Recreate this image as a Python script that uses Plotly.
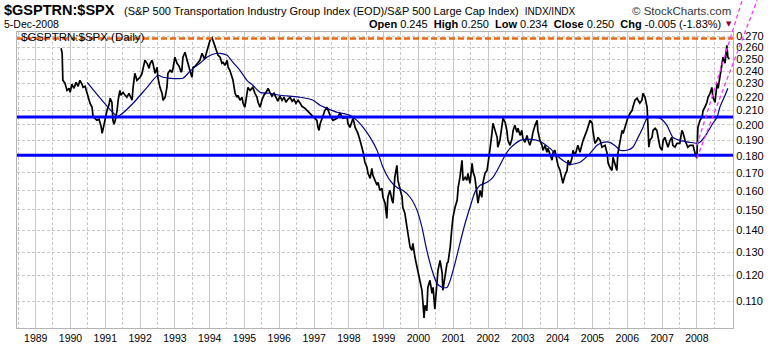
import math
from datetime import datetime
import plotly.graph_objects as go

# ---------------- data ----------------
ratio_t = [1989.73,1989.76,1989.78,1989.84,1989.90,1989.96,1989.99,1990.04,1990.10,1990.16,1990.22,1990.27,1990.33,1990.36,1990.42,1990.47,1990.50,1990.56,1990.62,1990.65,1990.70,1990.76,1990.82,1990.85,1990.88,1990.91,1990.96,1990.99,
1991.05,1991.11,1991.14,1991.19,1991.22,1991.25,1991.28,1991.34,1991.37,1991.42,1991.45,1991.51,1991.57,1991.62,1991.68,1991.74,1991.77,1991.80,1991.85,1991.91,
1992.00,1992.05,1992.08,1992.14,1992.20,1992.26,1992.28,1992.34,1992.37,1992.43,1992.49,1992.51,1992.57,1992.63,1992.66,1992.72,1992.77,1992.80,1992.86,1992.92,1992.95,
1993.00,1993.06,1993.12,1993.18,1993.20,1993.23,1993.29,1993.35,1993.38,1993.43,1993.49,1993.52,1993.58,1993.64,1993.72,1993.78,1993.84,1993.87,1993.92,1993.95,
1994.01,1994.07,1994.09,1994.15,1994.21,1994.24,1994.30,1994.35,1994.38,1994.44,1994.50,1994.53,1994.58,1994.64,1994.67,1994.73,1994.78,1994.81,1994.87,1994.93,1994.96,
1995.01,1995.07,1995.10,1995.16,1995.24,1995.30,1995.36,1995.39,1995.45,1995.50,1995.56,1995.62,1995.68,1995.73,1995.79,1995.85,1995.91,1995.96,
1996.02,1996.08,1996.14,1996.19,1996.25,1996.31,1996.37,1996.42,1996.48,1996.54,1996.60,1996.65,1996.74,1996.80,1996.88,1996.97,
1997.08,1997.11,1997.14,1997.17,1997.23,1997.31,1997.37,1997.46,1997.54,1997.66,1997.74,1997.83,1997.95,1997.97,
1998.03,1998.09,1998.12,1998.18,1998.23,1998.26,1998.32,1998.38,1998.41,1998.46,1998.52,1998.55,1998.61,1998.66,1998.69,1998.75,1998.81,1998.84,1998.89,1998.95,1998.98,
1999.04,1999.07,1999.09,1999.12,1999.18,1999.24,1999.27,1999.32,1999.38,1999.41,1999.47,1999.53,1999.55,1999.61,1999.67,1999.70,1999.76,1999.81,1999.84,1999.90,1999.96,1999.99,
2000.04,2000.10,2000.13,2000.16,2000.19,2000.24,2000.27,2000.33,2000.39,2000.42,2000.47,2000.50,2000.53,2000.56,2000.62,2000.68,2000.70,2000.76,2000.82,2000.85,2000.91,2000.96,2000.99,
2001.05,2001.11,2001.14,2001.19,2001.25,2001.28,2001.34,2001.39,2001.42,2001.48,2001.54,2001.57,2001.62,2001.68,2001.71,2001.77,2001.82,2001.85,2001.91,2001.97,
2002.00,2002.05,2002.11,2002.14,2002.20,2002.26,2002.28,2002.34,2002.40,2002.43,2002.49,2002.54,2002.57,2002.63,2002.69,2002.72,2002.77,2002.83,2002.86,2002.92,2002.97,
2003.00,2003.06,2003.12,2003.15,2003.20,2003.26,2003.29,2003.35,2003.41,2003.43,2003.49,2003.55,2003.58,2003.64,2003.69,2003.72,2003.78,2003.84,2003.87,2003.92,2003.98,
2004.01,2004.07,2004.12,2004.15,2004.21,2004.27,2004.30,2004.35,2004.41,2004.44,2004.50,2004.55,2004.58,2004.64,2004.73,2004.84,2004.93,2004.99,
2005.01,2005.07,2005.13,2005.16,2005.22,2005.27,2005.36,2005.42,2005.45,2005.50,2005.56,2005.59,2005.65,2005.70,2005.73,2005.79,2005.85,2005.88,2005.93,2005.99,
2006.02,2006.08,2006.14,2006.16,2006.22,2006.28,2006.31,2006.36,2006.42,2006.45,2006.51,2006.57,2006.60,2006.62,2006.65,2006.71,2006.74,2006.80,2006.85,2006.88,2006.94,2007.00,
2007.03,2007.08,2007.14,2007.17,2007.23,2007.28,2007.31,2007.37,2007.43,2007.51,2007.57,2007.60,2007.66,2007.72,2007.74,2007.80,2007.89,2007.95,
2008.00,2008.03,2008.09,2008.15,2008.18,2008.23,2008.29,2008.32,2008.38,2008.43,2008.46,2008.52,2008.55,2008.58,2008.61,2008.66,2008.72,2008.75,2008.81,2008.86,2008.89,2008.93]

ratio_v = [.2593,.2549,.2326,.2303,.2248,.2264,.2233,.2295,.2264,.2310,.2279,.2326,.2295,.2271,.2279,.2226,.2196,.2152,.2123,.2052,.2045,.2031,.2038,.2011,.1990,.1943,.1990,.2031,
.2101,.2144,.2189,.2159,.2031,.2004,.2024,.2101,.2174,.2248,.2211,.2233,.2211,.2196,.2226,.2181,.2174,.2271,.2382,.2326,
.2350,.2374,.2406,.2489,.2464,.2422,.2455,.2489,.2464,.2382,.2431,.2350,.2271,.2226,.2174,.2196,.2271,.2382,.2406,.2390,.2431,
.2515,.2464,.2439,.2390,.2406,.2515,.2558,.2489,.2464,.2406,.2350,.2431,.2439,.2464,.2489,.2549,.2506,.2515,.2575,.2601,
.2664,.2685,.2664,.2601,.2549,.2532,.2515,.2464,.2472,.2447,.2489,.2431,.2406,.2350,.2326,.2226,.2196,.2211,.2174,.2196,.2152,
.2123,.2248,.2271,.2248,.2271,.2226,.2196,.2159,.2123,.2174,.2211,.2233,.2264,.2233,.2204,.2226,.2189,.2167,
.2204,.2174,.2196,.2159,.2181,.2196,.2167,.2181,.2152,.2174,.2152,.2130,.2115,.2101,.2080,.2059,
.2031,.1983,.1963,.2004,.2045,.2101,.2123,.2066,.2031,.2045,.2080,.2045,.2052,.2011,
.1983,.2031,.2045,.1983,.1963,.1943,.1898,.1854,.1823,.1762,.1732,.1697,.1668,.1726,.1686,.1657,.1630,.1646,.1602,.1613,.1565,
.1534,.1497,.1457,.1565,.1602,.1549,.1534,.1674,.1744,.1657,.1613,.1565,.1513,.1482,.1414,.1385,.1321,.1307,.1339,.1277,.1235,.1210,
.1181,.1142,.1093,.1040,.1085,.1065,.1153,.1181,.1130,.1153,.1072,.1123,.1153,.1222,.1264,.1210,.1142,.1193,.1252,.1256,.1321,.1414,.1462,
.1513,.1549,.1618,.1674,.1774,.1657,.1674,.1657,.1697,.1641,.1756,.1703,.1674,.1586,.1534,.1602,.1565,.1641,.1697,.1714,
.1774,.1835,.1943,.2011,.1963,.1917,.1854,.1898,.1997,.2045,.2018,.1963,.1898,.1866,.1911,.1963,.1997,.1950,.1977,.1930,.1963,
.1911,.1885,.1930,.1898,.1866,.1911,.1950,.1997,.2031,.1963,.1898,.1866,.1835,.1866,.1823,.1847,.1804,.1774,.1823,.1835,.1774,
.1744,.1714,.1668,.1641,.1686,.1714,.1774,.1744,.1786,.1835,.1804,.1835,.1866,.1823,.1898,.1963,.2031,.2011,
.1963,.1879,.1898,.1917,.1898,.1854,.1866,.1816,.1756,.1732,.1714,.1792,.1756,.1714,.1816,.1898,.1963,.1943,.1983,.2031,
.2052,.2080,.2101,.2123,.2174,.2189,.2174,.2152,.2174,.2226,.2196,.2123,.1963,.1854,.1898,.1917,.1963,.1977,.1963,.1930,.1854,.1835,
.1898,.1917,.1879,.1854,.1898,.1917,.1866,.1854,.1879,.1879,.1963,.1950,.1898,.1866,.1854,.1866,.1866,.1816,
.1786,.1983,.2031,.2052,.2101,.2123,.2159,.2196,.2226,.2271,.2196,.2159,.2226,.2303,.2264,.2350,.2431,.2515,.2464,.2619,.2515,.2500]

ma_t = [1990.48,1991.34,1991.42,1991.80,1992.20,1992.51,1992.66,1992.86,1993.23,1993.38,1993.52,1993.72,1993.92,1994.09,1994.30,1994.50,1994.67,1994.87,
1995.07,1995.24,1995.45,1995.73,1996.02,1996.31,1996.60,1996.97,1997.17,1997.37,1997.66,1998.03,1998.23,1998.41,1998.61,1998.81,1998.98,
1999.18,1999.38,1999.55,1999.76,1999.96,2000.10,2000.24,2000.39,2000.53,2000.68,2000.82,2000.91,2001.05,2001.19,2001.34,2001.48,2001.62,2001.77,2001.97,
2002.14,2002.34,2002.49,2002.63,2002.92,2003.20,2003.49,2003.78,2004.07,2004.35,2004.64,2004.93,2005.13,2005.30,2005.50,2005.70,2005.79,2005.99,
2006.16,2006.31,2006.45,2006.57,2006.74,2006.94,2007.14,2007.31,2007.51,2007.80,2008.00,2008.09,2008.29,2008.46,2008.58,2008.66,2008.81,2008.89]
ma_v = [.2310,.2059,.2066,.2152,.2271,.2366,.2350,.2342,.2342,.2382,.2422,.2464,.2515,.2541,.2549,.2532,.2472,.2406,
.2326,.2287,.2233,.2226,.2211,.2204,.2196,.2174,.2137,.2115,.2087,.2066,.2031,.1983,.1917,.1835,.1732,
.1657,.1618,.1602,.1565,.1497,.1414,.1307,.1222,.1169,.1153,.1153,.1181,.1252,.1339,.1433,.1513,.1591,.1630,.1646,
.1674,.1744,.1804,.1847,.1898,.1904,.1892,.1847,.1786,.1750,.1762,.1816,.1866,.1885,.1885,.1854,.1835,.1835,
.1854,.1917,.1983,.2045,.2052,.2045,.1997,.1917,.1898,.1885,.1879,.1885,.1943,.2011,.2052,.2123,.2211,.2264]

support_levels = [0.2054, 0.1804]
peak_level = 0.2680
channel_upper_t = [2008.00, 2009.30]
channel_upper_v = [0.1866, 0.3050]
channel_lower_t = [2008.00, 2009.73]
channel_lower_v = [0.1786, 0.3050]

year_ticks = list(range(1989, 2009))
y_ticks = [0.11, 0.12, 0.13, 0.14, 0.15, 0.16, 0.17, 0.18, 0.19, 0.20,
           0.21, 0.22, 0.23, 0.24, 0.25, 0.26, 0.27]
y_tick_text = ["%.3f" % v for v in y_ticks]

# ---------------- helpers ----------------
def to_date(t):
    y = int(math.floor(t))
    a = datetime(y, 1, 1)
    b = datetime(y + 1, 1, 1)
    return a + (b - a) * (t - y)

W, H = 780, 345
PL, PR, PT, PB = 17, 733, 32, 328
X0, X1 = 1988.463, 2009.037
Y_LO, Y_HI = 0.10049, 0.27396
FONT = "Liberation Sans, Arial, sans-serif"

def fx(px):
    return (px - PL) / (PR - PL)

def fy(py):
    return (PB - py) / (PB - PT)

def data_to_paper(t, v):
    xp = (t - X0) / (X1 - X0)
    yp = (math.log10(v) - math.log10(Y_LO)) / (math.log10(Y_HI) - math.log10(Y_LO))
    return xp, yp

fig = go.Figure()

fig.add_trace(go.Scatter(
    x=[to_date(t) for t in ratio_t], y=ratio_v, mode="lines",
    line=dict(color="black", width=1.7), hoverinfo="skip"))
fig.add_trace(go.Scatter(
    x=[to_date(t) for t in ma_t], y=ma_v, mode="lines",
    line=dict(color="#00008f", width=1.2, shape="spline", smoothing=0.6), hoverinfo="skip"))

shapes = []
for lv in support_levels:
    shapes.append(dict(type="line", xref="paper", yref="y", x0=0, x1=1,
                       y0=lv, y1=lv, line=dict(color="#0000ff", width=3)))
shapes.append(dict(type="line", xref="paper", yref="y", x0=0, x1=1,
                   y0=peak_level, y1=peak_level,
                   line=dict(color="#f26410", width=2.5, dash="6px,3px")))
for ts, vs in [(channel_upper_t, channel_upper_v), (channel_lower_t, channel_lower_v)]:
    a = data_to_paper(ts[0], vs[0])
    b = data_to_paper(ts[1], vs[1])
    shapes.append(dict(type="line", xref="paper", yref="paper",
                       x0=a[0], y0=a[1], x1=b[0], y1=b[1],
                       line=dict(color="#ff33ff", width=1.3, dash="4px,3px")))

annotations = [
    dict(x=fx(2), y=fy(10), xref="paper", yref="paper", xanchor="left", yanchor="middle",
         text="<b>$GSPTRN:$SPX</b>", showarrow=False, font=dict(family=FONT, size=14.5, color="black")),
    dict(x=fx(122), y=fy(11), xref="paper", yref="paper", xanchor="left", yanchor="middle",
         text="(S&P 500 Transportation Industry Group Index (EOD)/S&P 500 Large Cap Index)  <span style='font-size:10px'>INDX/INDX</span>",
         showarrow=False, font=dict(family=FONT, size=11, color="black")),
    dict(x=fx(733), y=fy(11), xref="paper", yref="paper", xanchor="right", yanchor="middle",
         text="© StockCharts.com", showarrow=False, font=dict(family=FONT, size=11.5, color="#333333")),
    dict(x=fx(2), y=fy(24.5), xref="paper", yref="paper", xanchor="left", yanchor="middle",
         text="5-Dec-2008", showarrow=False, font=dict(family=FONT, size=10.5, color="black")),
    dict(x=fx(723), y=fy(24.5), xref="paper", yref="paper", xanchor="right", yanchor="middle",
         text="<b>Open</b> 0.245  <b>High</b> 0.250  <b>Low</b> 0.234  <b>Close</b> 0.250  <b>Chg</b> -0.005 (-1.83%)",
         showarrow=False, font=dict(family=FONT, size=11, color="black")),
    dict(x=fx(729), y=fy(24.5), xref="paper", yref="paper", xanchor="center", yanchor="middle",
         text="▼", showarrow=False, font=dict(family="DejaVu Sans", size=7, color="#8b0030")),
    dict(x=fx(19), y=fy(37), xref="paper", yref="paper", xanchor="left", yanchor="middle",
         text="$GSPTRN:$SPX (Daily)", showarrow=False, font=dict(family=FONT, size=11.5, color="black")),
]

fig.update_layout(
    width=W, height=H, margin=dict(l=PL, r=W - PR, t=PT, b=H - PB, autoexpand=False),
    paper_bgcolor="white", plot_bgcolor="white", showlegend=False, hovermode=False,
    shapes=shapes, annotations=annotations,
    xaxis=dict(
        type="date", range=[to_date(X0), to_date(X1)], automargin=False,
        tickmode="array", tickvals=[datetime(y, 1, 1) for y in year_ticks],
        ticktext=[str(y) for y in year_ticks],
        tickfont=dict(family=FONT, size=10.5, color="black"),
        showgrid=True, gridcolor="#c8c8c8", gridwidth=1,
        minor=dict(tickvals=[datetime(y, 7, 1) for y in range(1988, 2009)],
                   showgrid=True, gridcolor="#c8c8c8", griddash="3px,2px", gridwidth=1),
        showline=True, linecolor="#b4b4b4", linewidth=1, mirror=True,
        ticks="", zeroline=False, fixedrange=True),
    yaxis=dict(
        type="log", side="right", automargin=False,
        range=[math.log10(Y_LO), math.log10(Y_HI)],
        tickmode="array", tickvals=y_ticks, ticktext=y_tick_text,
        tickfont=dict(family=FONT, size=11, color="black"),
        showgrid=True, gridcolor="#c8c8c8", griddash="3px,2px", gridwidth=1,
        showline=True, linecolor="#b4b4b4", linewidth=1, mirror=True,
        ticks="", zeroline=False, fixedrange=True),
)

fig.write_html("out.html", config={"displayModeBar": False})
